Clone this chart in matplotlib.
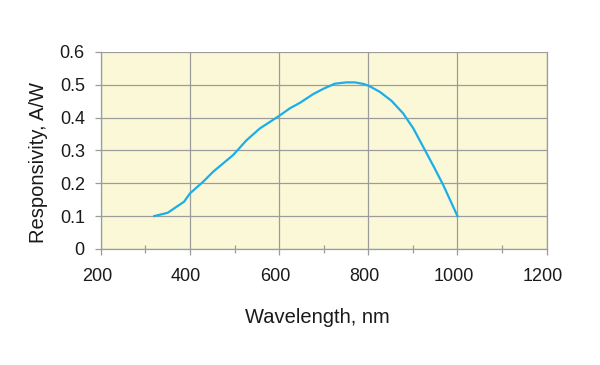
import matplotlib
matplotlib.use('Agg')
import matplotlib.pyplot as plt
import matplotlib.transforms as mtransforms

# responsivity curve
wavelength = [320, 350, 387, 400, 430, 452, 497, 527, 557, 599, 624, 647,
              676, 700, 725, 751, 770, 790, 802, 826, 852, 878, 901, 927,
              949, 968, 1000]
responsivity = [0.100, 0.110, 0.144, 0.169, 0.205, 0.235, 0.286, 0.331, 0.367,
                0.404, 0.428, 0.445, 0.471, 0.488, 0.503, 0.507, 0.507, 0.502,
                0.496, 0.478, 0.451, 0.413, 0.367, 0.301, 0.245, 0.195, 0.100]

x_ticks = [200, 400, 600, 800, 1000, 1200]
x_minor = [300, 500, 700, 900, 1100]
y_ticks = [0, 0.1, 0.2, 0.3, 0.4, 0.5, 0.6]
y_labels = ['0', '0.1', '0.2', '0.3', '0.4', '0.5', '0.6']

plt.rcParams['font.family'] = ['Liberation Sans', 'DejaVu Sans']
grid_col = '#9c9c9c'

fig = plt.figure(figsize=(6, 3.65), dpi=100)
ax = fig.add_axes([0.168, 0.318, 0.743, 0.54])
ax.set_facecolor('#fbf8d8')

ax.plot(wavelength, responsivity, color='#1baee9', lw=1.6, zorder=3)

ax.set_xlim(200, 1200)
ax.set_ylim(0, 0.6)
ax.set_xticks(x_ticks)
ax.set_xticks(x_minor, minor=True)
ax.set_yticks(y_ticks)
ax.set_yticklabels(y_labels)
ax.grid(True, which='major', color=grid_col, lw=0.9)
ax.set_axisbelow(True)

for s in ax.spines.values():
    s.set_color(grid_col)
    s.set_linewidth(0.9)
ax.spines['top'].set_visible(False)

ax.tick_params(axis='both', which='major', length=4.5, width=0.9,
               color=grid_col, labelsize=13, labelcolor='#1a1a1a', pad=7)
ax.tick_params(axis='x', which='major', pad=9)
ax.tick_params(axis='x', which='minor', direction='inout', length=6,
               width=0.9, color=grid_col)

# labels in the reference sit a little left of their ticks
shift = mtransforms.ScaledTranslation(-4 / 100, 0, fig.dpi_scale_trans)
for lab in ax.get_xticklabels():
    lab.set_transform(lab.get_transform() + shift)

ax.set_xlabel('Wavelength, nm', fontsize=14.5, color='#1a1a1a')
ax.set_ylabel('Responsivity, A/W', fontsize=14.5, color='#1a1a1a')
ax.xaxis.set_label_coords(0.485, -0.30)
ax.yaxis.set_label_coords(-0.119, 0.44)

fig.savefig('out.png', dpi=100)
